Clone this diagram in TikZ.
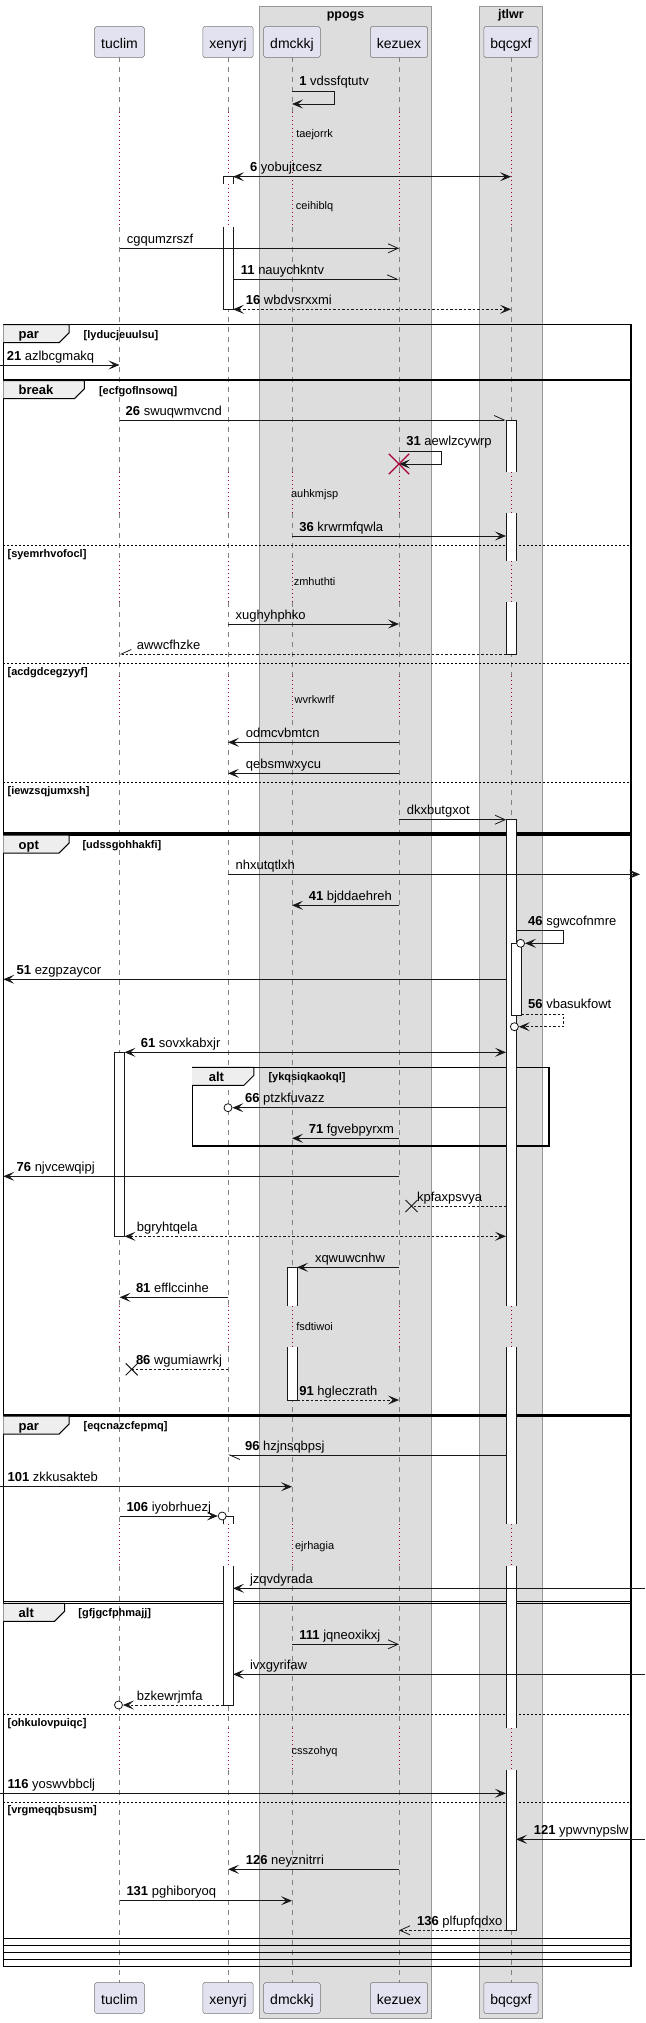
\documentclass[tikz,border=0pt]{standalone}
\usepackage{fontspec}
\setmainfont{Liberation Sans}
\usetikzlibrary{arrows.meta,shapes.misc}

\definecolor{ink}{HTML}{181818}
\definecolor{partfill}{HTML}{E2E2F0}
\definecolor{boxfill}{HTML}{DDDDDD}
\definecolor{tabfill}{HTML}{EEEEEE}
\definecolor{lifered}{HTML}{A80036}

\tikzset{
  part/.style={draw=ink!60, fill=partfill, line width=0.5pt, rounded corners=1.5pt, inner xsep=6.5pt, inner ysep=0pt, minimum height=30.6pt, text height=13pt, text depth=0pt, font=\fontsize{14}{16}\selectfont},
  grp/.style={fill=boxfill, draw=ink!45, line width=0.6pt},
  grptitle/.style={anchor=base, inner sep=0pt, font=\bfseries\fontsize{12.5}{15}\selectfont},
  life/.style={draw=ink!55, line width=0.5pt, dash pattern=on 5pt off 5pt},
  delayline/.style={draw=lifered, line width=0.6pt, dash pattern=on 1pt off 3pt},
  act/.style={fill=white, draw=ink, line width=0.6pt},
  msg/.style={draw=ink, line width=0.8pt},
  ret/.style={msg, dash pattern=on 2.5pt off 2pt},
  opnhead/.style={-{Straight Barb[length=10pt,width=9pt]}},
  halfA/.style={-{Straight Barb[length=10pt,width=9pt,left]}},
  halfB/.style={-{Straight Barb[length=10pt,width=9pt,right]}},
  lbl/.style={anchor=base west, inner sep=0pt, font=\fontsize{13}{15}\selectfont},
  dlbl/.style={anchor=base, inner sep=0pt, font=\fontsize{11}{13}\selectfont},
  frm/.style={draw=black, line width=1.2pt},
  elseline/.style={draw=black, line width=0.6pt, dash pattern=on 2pt off 2pt},
  tabbox/.style={fill=tabfill, draw=black, line width=1pt},
  kind/.style={anchor=base west, inner sep=0pt, font=\bfseries\fontsize{13}{15}\selectfont},
  guard/.style={anchor=base west, inner sep=0pt, font=\bfseries\fontsize{11}{13}\selectfont},
  circ/.style={circle, draw=ink, fill=white, line width=0.8pt, minimum size=8pt, inner sep=0pt},
  lost/.style={cross out, draw=ink, line width=1pt, minimum size=11pt, inner sep=0pt},
  killed/.style={cross out, draw=lifered, line width=1.3pt, minimum size=19pt, inner sep=0pt},
}

\begin{document}
\begin{tikzpicture}[x=1pt,y=-1pt,>={Stealth[length=11pt,width=9pt,inset=5pt]}]
\useasboundingbox (0,0) rectangle (645,2023);

\draw[grp] (259.7,6) rectangle (431.3,2018);
\draw[grp] (479.4,6) rectangle (542.4,2018);
\node[grptitle] (ppogs) at (345.5,18.3) {ppogs};
\node[grptitle] (jtlwr) at (510.9,18.3) {jtlwr};

\node[part] (tuclim) at (119.5,42) {tuclim};
\node[part] (xenyrj) at (228,42) {xenyrj};
\node[part] (dmckkj) at (292,42) {dmckkj};
\node[part] (kezuex) at (399,42) {kezuex};
\node[part] (bqcgxf) at (511,42) {bqcgxf};
\node[part] (tuclimB) at (119.5,1998) {tuclim};
\node[part] (xenyrjB) at (228,1998) {xenyrj};
\node[part] (dmckkjB) at (292,1998) {dmckkj};
\node[part] (kezuexB) at (399,1998) {kezuex};
\node[part] (bqcgxfB) at (511,1998) {bqcgxf};

\coordinate (tuclimR) at (124.5,0);
\coordinate (xenyrjL) at (223,0);
\coordinate (xenyrjR) at (233,0);
\coordinate (dmckkjR) at (297,0);
\coordinate (bqcgxfL) at (506,0);
\coordinate (bqcgxfR) at (516,0);
\coordinate (bqcgxfRR) at (521.5,0);
\coordinate (edgeL) at (0,0);
\coordinate (frameL) at (3.3,0);
\coordinate (edgeR) at (645,0);
\coordinate (tipR) at (640,0);

\foreach \p in {tuclim,xenyrj,dmckkj,kezuex,bqcgxf} {
  \foreach \a/\b in {57.3/111.7,226.7/472.3,513.3/560.7,602.3/676,720/1305.7,1347/1524.3,1566/1728.3,1770.3/1982.7}
    \draw[life] (\p |- 0,\a) -- (\p |- 0,\b);
  \foreach \a/\b in {111.7/226.7,472.3/513.3,560.7/602.3,676/720,1305.7/1347,1524.3/1566,1728.3/1770.3}
    \draw[delayline] (\p |- 0,\a) -- (\p |- 0,\b);
}

\draw[frm] (3.3,324.7) rectangle (630.9,1966.7);
\draw[frm] (3.3,380.7) rectangle (630.9,1959.3);
\draw[frm] (3.3,835) rectangle (630.9,1952.3);
\draw[frm] (3.3,1416) rectangle (630.9,1945.7);
\draw[frm] (3.3,1603.3) rectangle (630.9,1938.3);
\draw[frm] (3.3,379.5) -- (630.9,379.5);
\draw[frm] (3.3,833) -- (630.9,833);
\draw[frm] (3.3,1414.3) -- (630.9,1414.3);
\draw[frm] (3.3,1601.6) -- (630.9,1601.6);

\foreach \t/\r/\k/\g/\gx [count=\i] in {324.7/69.1/par/lyducjeuulsu/83.5, 380.7/84.4/break/ecfgoflnsowq/98.8, 835/69.1/opt/udssgohhakfi/82.3, 1416/69.1/par/eqcnazcfepmq/83.5, 1603.3/64.6/alt/gfjgcfphmajj/78.2} {
  \filldraw[tabbox] (3.3,\t) -- (\r,\t) -- (\r,\t+8) -- (\r-10,\t+18) -- (3.3,\t+18);
  \node[kind] (kind\i) at (18.5,\t+14) {\k};
  \node[guard] (guard\i) at (\gx,\t+13.5) {[\g]};
}

\foreach \y/\g in {545.3/syemrhvofocl, 663.3/acdgdcegzyyf, 782.3/iewzsqjumxsh, 1714.3/ohkulovpuiqc, 1802/vrgmeqqbsusm} {
  \draw[elseline] (3.3,\y) -- (630.9,\y);
  \node[guard] (else\g) at (7.4,\y+11.7) {[\g]};
}

\draw[frm] (192.2,1067.3) rectangle (549,1146);
\filldraw[tabbox] (192.2,1067.3) -- (253.9,1067.3) -- (253.9,1075.3) -- (243.9,1085.3) -- (192.2,1085.3);
\node[kind] (kindalt) at (208.6,1081.5) {alt};
\node[guard] (guardalt) at (268.3,1080.8) {[ykqsiqkaokql]};

\filldraw[act] (223,184) -- (223,176.7) -- (233,176.7) -- (233,184);
\filldraw[act] (223,226.7) -- (223,309.3) -- (233,309.3) -- (233,226.7);
\filldraw[act] (223,1524.3) -- (223,1516) -- (233,1516) -- (233,1524.3);
\filldraw[act] (223,1566) -- (223,1705) -- (233,1705) -- (233,1566);
\filldraw[act] (506,472.3) -- (506,420) -- (516,420) -- (516,472.3);
\fill[white] (506,513.3) rectangle (516,560.7);
\draw[act] (506,513.3) -- (506,560.7) (516,513.3) -- (516,560.7);
\filldraw[act] (506,602.3) -- (506,654) -- (516,654) -- (516,602.3);
\filldraw[act] (506,1305.7) -- (506,819.7) -- (516,819.7) -- (516,1305.7);
\fill[white] (506,1347) rectangle (516,1524.3);
\draw[act] (506,1347) -- (506,1524.3) (516,1347) -- (516,1524.3);
\fill[white] (506,1566) rectangle (516,1728.3);
\draw[act] (506,1566) -- (506,1728.3) (516,1566) -- (516,1728.3);
\filldraw[act] (506,1770.3) -- (506,1930.3) -- (516,1930.3) -- (516,1770.3);
\filldraw[act] (511.5,943.3) rectangle (521.5,1015);
\filldraw[act] (114.5,1052.3) rectangle (124.5,1236.3);
\filldraw[act] (287,1305.7) -- (287,1267.3) -- (297,1267.3) -- (297,1305.7);
\filldraw[act] (287,1347) -- (287,1400) -- (297,1400) -- (297,1347);

\draw[msg,->] (dmckkj |- 0,91.7) -- (334.2,91.7) -- (334.2,104) -- (dmckkj |- 0,104);
\node[lbl] (l1) at (299.2,86) {\textbf{1} vdssfqtutv};
\node[dlbl] (d1) at (314.6,137.3) {taejorrk};
\draw[msg,<->] (xenyrjR |- 0,176.7) -- (bqcgxf |- 0,176.7);
\node[lbl] (l6) at (249.8,171.7) {\textbf{6} yobujtcesz};
\node[dlbl] (d2) at (314.6,209) {ceihiblq};
\draw[msg,opnhead] (tuclim |- 0,248.3) -- (kezuex |- 0,248.3);
\node[lbl] (l8) at (126.7,243.3) {cgqumzrszf};
\draw[msg,halfA] (xenyrjR |- 0,279.3) -- (kezuex |- 0,279.3);
\node[lbl] (l11) at (240.7,274.3) {\textbf{11} nauychkntv};
\draw[ret,<->] (xenyrjR |- 0,309.3) -- (bqcgxf |- 0,309.3);
\node[lbl] (l16) at (245.7,304.3) {\textbf{16} wbdvsrxxmi};

\draw[msg,->] (edgeL |- 0,365) -- (tuclim |- 0,365);
\node[lbl] (l21) at (6.6,360) {\textbf{21} azlbcgmakq};

\draw[msg,halfA] (tuclim |- 0,420) -- (bqcgxfL |- 0,420);
\node[lbl] (l26) at (125.5,415) {\textbf{26} swuqwmvcnd};
\draw[msg,->] (kezuex |- 0,451.3) -- (441.6,451.3) -- (441.6,464) -- (kezuex |- 0,464);
\node[killed] (x31) at (kezuex |- 0,464) {};
\node[lbl] (l31) at (406.2,445.6) {\textbf{31} aewlzcywrp};
\node[dlbl] (d3) at (314.6,497.5) {auhkmjsp};
\draw[msg,->] (dmckkj |- 0,536) -- (bqcgxfL |- 0,536);
\node[lbl] (l36) at (299.2,531) {\textbf{36} krwrmfqwla};
\node[dlbl] (d4) at (314.6,585.3) {zmhuthti};
\draw[msg,->] (xenyrj |- 0,624) -- (kezuex |- 0,624);
\node[lbl] (l37) at (235.4,619) {xughyhphko};
\draw[ret,halfB] (bqcgxfL |- 0,654) -- (tuclim |- 0,654);
\node[lbl] (l38) at (136.6,649) {awwcfhzke};
\node[dlbl] (d5) at (314.6,703.3) {wvrkwrlf};
\draw[msg,->] (kezuex |- 0,742.3) -- (xenyrj |- 0,742.3);
\node[lbl] (l39) at (245.7,737.3) {odmcvbmtcn};
\draw[msg,->] (kezuex |- 0,773.3) -- (xenyrj |- 0,773.3);
\node[lbl] (l40) at (245.7,768.3) {qebsmwxycu};
\draw[msg,opnhead] (kezuex |- 0,819.7) -- (bqcgxfL |- 0,819.7);
\node[lbl] (l40b) at (406.6,814.7) {dkxbutgxot};

\draw[msg,->] (xenyrj |- 0,874.3) -- (tipR |- 0,874.3);
\node[lbl] (l40c) at (235.4,869.3) {nhxutqtlxh};
\draw[msg,->] (kezuex |- 0,905.3) -- (dmckkj |- 0,905.3);
\node[lbl] (l41) at (308.6,900.3) {\textbf{41} bjddaehreh};
\node[circ] (c46) at (520.6,943.3) {};
\draw[msg,->] (bqcgxfR |- 0,930.7) -- (563,930.7) -- (563,943.3) -- (c46.east);
\node[lbl] (l46) at (528,925) {\textbf{46} sgwcofnmre};
\draw[msg,->] (bqcgxfL |- 0,979.3) -- (frameL |- 0,979.3);
\node[lbl] (l51) at (16.5,974.3) {\textbf{51} ezgpzaycor};
\node[circ] (c56) at (514.4,1026.7) {};
\draw[ret,->] (bqcgxfRR |- 0,1014) -- (563.8,1014) -- (563.8,1026.7) -- (c56.east);
\node[lbl] (l56) at (528,1008.3) {\textbf{56} vbasukfowt};
\draw[msg,<->] (tuclimR |- 0,1052.3) -- (bqcgxfL |- 0,1052.3);
\node[lbl] (l61) at (140.7,1047.3) {\textbf{61} sovxkabxjr};
\node[circ] (c66) at (xenyrj |- 0,1107.7) {};
\draw[msg,->] (bqcgxfL |- 0,1107.7) -- (c66.east);
\node[lbl] (l66) at (244.9,1102.7) {\textbf{66} ptzkfuvazz};
\draw[msg,->] (kezuex |- 0,1138.3) -- (dmckkj |- 0,1138.3);
\node[lbl] (l71) at (308.6,1133.3) {\textbf{71} fgvebpyrxm};
\draw[msg,->] (kezuex |- 0,1176.3) -- (frameL |- 0,1176.3);
\node[lbl] (l76) at (16.5,1171.3) {\textbf{76} njvcewqipj};
\node[lost] (x77) at (411.5,1206) {};
\draw[ret] (bqcgxfL |- 0,1206) -- (x77.center);
\node[lbl] (l77) at (416.9,1201) {kpfaxpsvya};
\draw[ret,<->] (tuclimR |- 0,1236.3) -- (bqcgxfL |- 0,1236.3);
\node[lbl] (l78) at (136.6,1231.3) {bgryhtqela};
\draw[msg,->] (kezuex |- 0,1267.3) -- (dmckkjR |- 0,1267.3);
\node[lbl] (l79) at (314.8,1262.3) {xqwuwcnhw};
\draw[msg,->] (xenyrj |- 0,1297.3) -- (tuclim |- 0,1297.3);
\node[lbl] (l81) at (135.8,1292.3) {\textbf{81} efflccinhe};
\node[dlbl] (d6) at (314.6,1330.3) {fsdtiwoi};
\node[lost] (x86) at (131.7,1369.3) {};
\draw[ret] (xenyrj |- 0,1369.3) -- (x86.center);
\node[lbl] (l86) at (135.8,1364.3) {\textbf{86} wgumiawrkj};
\draw[ret,->] (dmckkjR |- 0,1400) -- (kezuex |- 0,1400);
\node[lbl] (l91) at (299.2,1395) {\textbf{91} hgleczrath};

\draw[msg,halfA] (bqcgxfL |- 0,1455) -- (xenyrj |- 0,1455);
\node[lbl] (l96) at (244.9,1450) {\textbf{96} hzjnsqbpsj};
\draw[msg,->] (edgeL |- 0,1486.7) -- (dmckkj |- 0,1486.7);
\node[lbl] (l101) at (7.4,1481.7) {\textbf{101} zkkusakteb};
\node[circ] (c106) at (222.2,1516) {};
\draw[msg,->] (tuclim |- 0,1516) -- (c106.west);
\node[lbl] (l106) at (126.3,1511) {\textbf{106} iyobrhuezj};
\node[dlbl] (d7) at (314.6,1549.3) {ejrhagia};
\draw[msg,->] (edgeR |- 0,1588.3) -- (xenyrjR |- 0,1588.3);
\node[lbl] (l107) at (249.8,1583.3) {jzqvdyrada};

\draw[msg,opnhead] (dmckkj |- 0,1644.3) -- (kezuex |- 0,1644.3);
\node[lbl] (l111) at (299.2,1639.3) {\textbf{111} jqneoxikxj};
\draw[msg,->] (edgeR |- 0,1674.3) -- (xenyrjR |- 0,1674.3);
\node[lbl] (l112) at (249.8,1669.3) {ivxgyrifaw};
\node[circ] (c113) at (118.5,1705) {};
\draw[ret,->] (xenyrjL |- 0,1705) -- (c113.east);
\node[lbl] (l113) at (136.6,1700) {bzkewrjmfa};
\node[dlbl] (d8) at (314.6,1754) {csszohyq};
\draw[msg,->] (edgeL |- 0,1793.3) -- (bqcgxfL |- 0,1793.3);
\node[lbl] (l116) at (7.4,1788.3) {\textbf{116} yoswvbbclj};
\draw[msg,->] (edgeR |- 0,1839.3) -- (bqcgxfR |- 0,1839.3);
\node[lbl] (l121) at (533.7,1834.3) {\textbf{121} ypwvnypslw};
\draw[msg,->] (kezuex |- 0,1869.3) -- (xenyrj |- 0,1869.3);
\node[lbl] (l126) at (245.7,1864.3) {\textbf{126} neyznitrri};
\draw[msg,->] (tuclim |- 0,1900.7) -- (dmckkj |- 0,1900.7);
\node[lbl] (l131) at (126.3,1895.7) {\textbf{131} pghiboryoq};
\draw[ret,opnhead] (bqcgxfL |- 0,1930.3) -- (kezuex |- 0,1930.3);
\node[lbl] (l136) at (416.9,1925.3) {\textbf{136} plfupfqdxo};
\end{tikzpicture}
\end{document}
